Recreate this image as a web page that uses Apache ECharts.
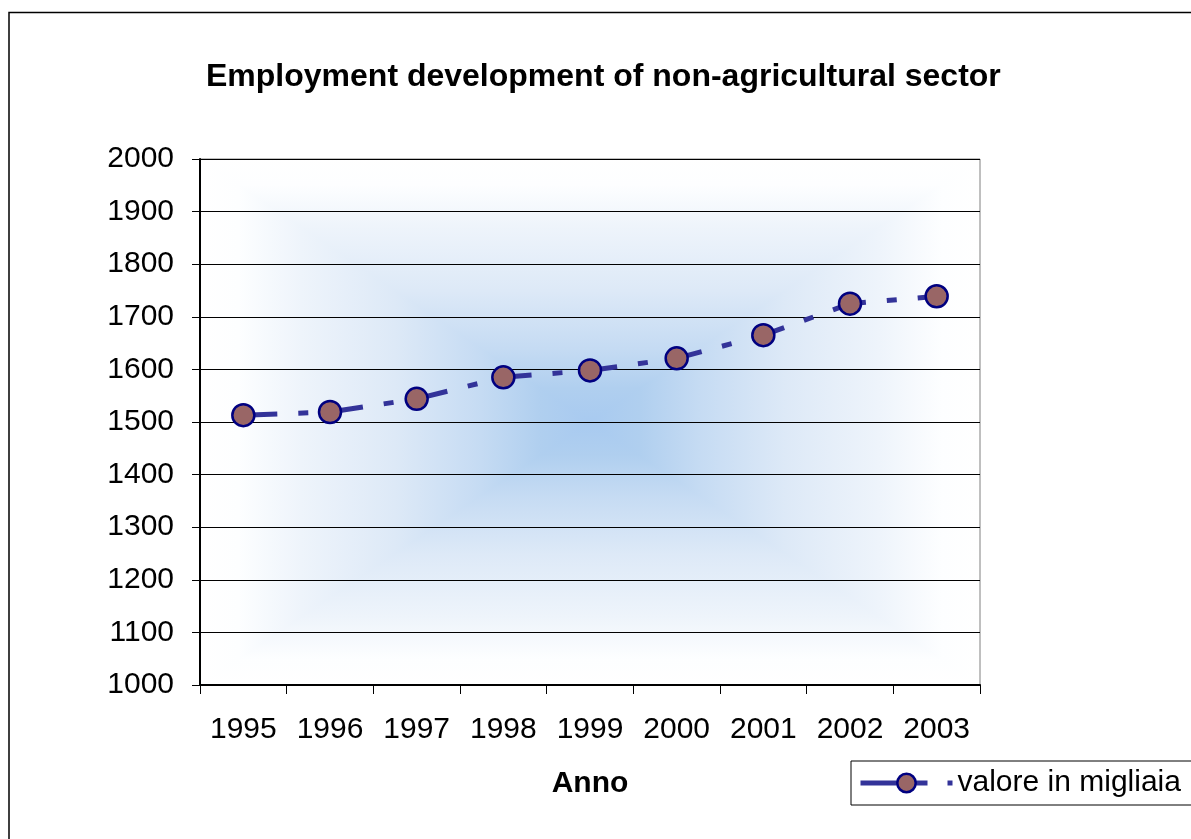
<!DOCTYPE html>
<html>
<head>
<meta charset="utf-8">
<script src="https://cdn.jsdelivr.net/npm/echarts@6/dist/echarts.min.js"></script>
<style>
html,body{margin:0;padding:0;background:#fff;}
#chart{width:1191px;height:839px;}
</style>
</head>
<body>
<div id="chart"></div>
<script>
var years = ['1995','1996','1997','1998','1999','2000','2001','2002','2003'];
var values = [1513, 1519, 1544, 1585, 1598, 1621, 1665, 1725, 1739];
var yMin = 1000, yMax = 2000, yStep = 100;
var titleText = 'Employment development of non-agricultural sector';
var xName = 'Anno';
var seriesName = 'valore in migliaia';

var FONT = '"Liberation Sans", Arial, Helvetica, sans-serif';
var G = {left: 200, top: 159, width: 780, height: 526};
var L = G.left, T = G.top, R = G.left + G.width, B = G.top + G.height;
var CX = (L + R) / 2, CY = (T + B) / 2;
var stopsOut = [
  {offset: 0, color: '#ffffff'},
  {offset: 0.1, color: '#fdfeff'},
  {offset: 0.26, color: '#eef4fb'},
  {offset: 0.5, color: '#dde9f7'},
  {offset: 0.72, color: '#c5dbf3'},
  {offset: 0.87, color: '#b0cfef'},
  {offset: 1, color: '#a8caf0'}
];
function lg(x, y, x2, y2, rev) {
  var st = stopsOut.map(function (s) { return {offset: rev ? 1 - s.offset : s.offset, color: s.color}; });
  st.sort(function (a, b) { return a.offset - b.offset; });
  return {type: 'linear', x: x, y: y, x2: x2, y2: y2, colorStops: st};
}
function tri(points, grad) {
  return {type: 'polygon', z: -100, silent: true, shape: {points: points},
    style: {fill: grad, stroke: grad, lineWidth: 1.5}};
}

var chart = echarts.init(document.getElementById('chart'), null, {renderer: 'canvas'});
chart.setOption({
  animation: false,
  backgroundColor: '#ffffff',
  title: {
    text: titleText,
    left: 206,
    top: 61,
    padding: 0,
    textStyle: {fontFamily: FONT, fontSize: 32, fontWeight: 'bold', color: '#000'}
  },
  graphic: [
    tri([[L, T], [R, T], [CX, CY]], lg(0, 0, 0, 1, false)),
    tri([[L, B], [R, B], [CX, CY]], lg(0, 0, 0, 1, true)),
    tri([[L, T], [L, B], [CX, CY]], lg(0, 0, 1, 0, false)),
    tri([[R, T], [R, B], [CX, CY]], lg(0, 0, 1, 0, true)),
    {type: 'rect', z: 100, silent: true, shape: {x: 9, y: 12.5, width: 1400, height: 1000}, style: {fill: 'none', stroke: '#000', lineWidth: 1.5}}
  ],
  grid: {
    left: G.left, top: G.top, width: G.width, height: G.height,
    show: true, borderColor: '#808080', borderWidth: 1, backgroundColor: 'transparent'
  },
  legend: {
    left: 851, top: 761,
    orient: 'horizontal',
    padding: [7, 40, 7, 7],
    borderColor: '#000', borderWidth: 1,
    itemWidth: 92, itemHeight: 23,
    textStyle: {fontFamily: FONT, fontSize: 30, color: '#000'},
    lineStyle: {type: [67, 20, 5, 200], width: 5, color: '#333399'},
    itemStyle: {borderWidth: 2.5, borderColor: '#000080', color: '#996666'},
    data: [seriesName]
  },
  xAxis: {
    type: 'category',
    data: years,
    boundaryGap: true,
    name: xName,
    nameLocation: 'middle',
    nameGap: 84,
    nameTextStyle: {fontFamily: FONT, fontSize: 30, fontWeight: 'bold', color: '#000'},
    axisLine: {show: true, onZero: false, lineStyle: {color: '#000', width: 2}},
    axisTick: {show: true, interval: 0, length: 9, inside: false, lineStyle: {color: '#000', width: 1}},
    axisLabel: {interval: 0, margin: 30, fontFamily: FONT, fontSize: 30, color: '#000'},
    splitLine: {show: false}
  },
  yAxis: {
    type: 'value',
    min: yMin, max: yMax, interval: yStep,
    axisLine: {show: true, lineStyle: {color: '#000', width: 2}},
    axisTick: {show: true, length: 8, lineStyle: {color: '#000', width: 1}},
    axisLabel: {margin: 26, fontFamily: FONT, fontSize: 30, color: '#000',
      formatter: function (v) { return String(v); }},
    splitLine: {show: true, lineStyle: {color: '#000', width: 1}}
  },
  series: [{
    name: seriesName,
    type: 'line',
    data: values,
    symbol: 'circle',
    symbolSize: 22,
    showSymbol: true,
    lineStyle: {color: '#333399', width: 5, type: [34, 21, 10, 21]},
    itemStyle: {color: '#996666', borderColor: '#000080', borderWidth: 2.5},
    emphasis: {disabled: true}
  }]
});
</script>
</body>
</html>
